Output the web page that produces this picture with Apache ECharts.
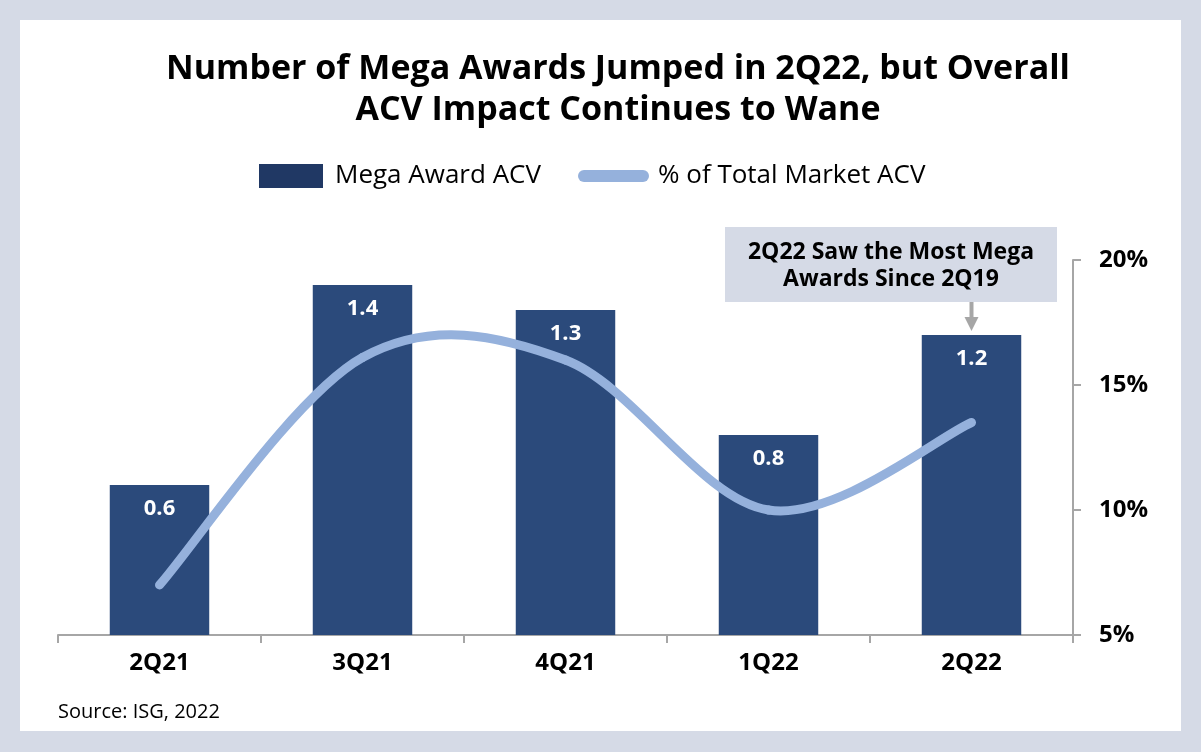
<!DOCTYPE html>
<html>
<head>
<meta charset="utf-8">
<script src="https://cdn.jsdelivr.net/npm/echarts@6/dist/echarts.min.js"></script>
<style>
  html, body { margin: 0; padding: 0; }
  body { width: 1201px; height: 752px; background: #d5dae6; position: relative; overflow: hidden; }
  #panel { position: absolute; left: 20px; top: 20px; width: 1161px; height: 711px; background: #ffffff; }
  #chart { position: absolute; left: 0; top: 0; width: 1201px; height: 752px; }
</style>
</head>
<body>
<div id="panel"></div>
<div id="chart"></div>
<script>
const categories = ['2Q21', '3Q21', '4Q21', '1Q22', '2Q22'];
const megaAwardACV = [0.6, 1.4, 1.3, 0.8, 1.2];
const pctTotalMarketACV = [7.0, 16.1, 16.0, 10.0, 13.5];
const rightAxisTicks = [5, 10, 15, 20];
const titleLines = ['Number of Mega Awards Jumped in 2Q22, but Overall', 'ACV Impact Continues to Wane'];
const annotationLines = ['2Q22 Saw the Most Mega', 'Awards Since 2Q19'];
const sourceText = 'Source: ISG, 2022';

const FONT = '"Open Sans", "Noto Sans", sans-serif';
const BAR = '#2b4a7b';
const LINE = '#95b1dc';
const AXIS = '#a6a6a6';

const chart = echarts.init(document.getElementById('chart'), null, { renderer: 'canvas' });

// Smoothed line (Catmull-Rom style, like spreadsheet smoothing) drawn through the axis scales
function renderSmoothLine(params, api) {
  if (params.dataIndex !== 0) return;
  const pts = pctTotalMarketACV.map((v, i) => api.coord([i, v]));
  const n = pts.length;
  const k = 1 / 6;
  const children = [];
  for (let i = 0; i < n - 1; i++) {
    const p0 = pts[Math.max(i - 1, 0)];
    const p1 = pts[i];
    const p2 = pts[i + 1];
    const p3 = pts[Math.min(i + 2, n - 1)];
    children.push({
      type: 'bezierCurve',
      shape: {
        x1: p1[0], y1: p1[1],
        cpx1: p1[0] + (p2[0] - p0[0]) * k, cpy1: p1[1] + (p2[1] - p0[1]) * k,
        cpx2: p2[0] - (p3[0] - p1[0]) * k, cpy2: p2[1] - (p3[1] - p1[1]) * k,
        x2: p2[0], y2: p2[1]
      },
      style: { stroke: LINE, lineWidth: 9, lineCap: 'round', fill: null }
    });
  }
  return { type: 'group', children: children };
}

const option = {
  animation: false,
  textStyle: { fontFamily: FONT },
  title: {
    text: titleLines.join('\n'),
    left: 613,
    top: 44,
    textAlign: 'center',
    textStyle: { fontFamily: FONT, fontSize: 34, fontWeight: 'bold', color: '#000', lineHeight: 41 }
  },
  legend: [
    {
      left: 254, top: 158,
      itemWidth: 64, itemHeight: 24,
      data: [{ name: 'Mega Award ACV', icon: 'rect', itemStyle: { color: '#203864' } }],
      textStyle: { fontFamily: FONT, fontSize: 26, color: '#000', padding: [0, 0, 0, 7] }
    },
    {
      left: 573, top: 158,
      itemWidth: 71, itemHeight: 12,
      data: [{ name: '% of Total Market ACV', icon: 'path://M6,0H65A6,6,0,0,1,65,12H6A6,6,0,0,1,6,0Z', itemStyle: { color: LINE } }],
      textStyle: { fontFamily: FONT, fontSize: 26, color: '#000', padding: [0, 0, 0, 4] }
    }
  ],
  grid: { left: 58, right: 128, top: 260, bottom: 117, containLabel: false },
  xAxis: {
    type: 'category',
    data: categories,
    boundaryGap: true,
    axisLine: { lineStyle: { color: AXIS, width: 2 } },
    axisTick: { show: true, length: 8, lineStyle: { color: AXIS, width: 2 } },
    axisLabel: { fontFamily: FONT, fontSize: 24, fontWeight: 'bold', color: '#000', margin: 16 }
  },
  yAxis: [
    {
      type: 'value', min: 0, max: 1.5, show: false,
      splitLine: { show: false }
    },
    {
      type: 'value', min: rightAxisTicks[0], max: rightAxisTicks[rightAxisTicks.length - 1], interval: 5,
      position: 'right',
      axisLine: { show: true, lineStyle: { color: AXIS, width: 2 } },
      axisTick: { show: true, length: 8, lineStyle: { color: AXIS, width: 2 } },
      splitLine: { show: false },
      axisLabel: { formatter: '{value}%', fontFamily: FONT, fontSize: 24, fontWeight: 'bold', color: '#000', margin: 26 }
    }
  ],
  series: [
    {
      name: 'Mega Award ACV',
      type: 'bar',
      yAxisIndex: 0,
      data: megaAwardACV,
      barWidth: '49%',
      itemStyle: { color: BAR },
      label: {
        show: true, position: 'insideTop', distance: 13,
        formatter: p => p.value.toFixed(1),
        fontFamily: FONT, fontSize: 22, fontWeight: 'bold', color: '#fff'
      },
      z: 2
    },
    {
      name: '% of Total Market ACV',
      type: 'custom',
      yAxisIndex: 1,
      data: pctTotalMarketACV,
      renderItem: renderSmoothLine,
      itemStyle: { color: LINE },
      clip: false,
      z: 3
    }
  ]
};

chart.setOption(option);

// Annotation anchored on the last bar via the chart's own scales
const lastIdx = categories.length - 1;
const barTop = chart.convertToPixel({ xAxisIndex: 0, yAxisIndex: 0 }, [lastIdx, megaAwardACV[lastIdx]]);
const ax = barTop[0];
const ay = barTop[1];
chart.setOption({
  graphic: [
    {
      type: 'rect', left: 725, top: ay - 108,
      shape: { width: 332, height: 75 },
      style: { fill: '#d5dae6' }
    },
    {
      type: 'text', x: 891, y: ay - 69,
      style: {
        text: annotationLines.join('\n'),
        fontFamily: FONT, fontSize: 23, fontWeight: 'bold', fill: '#000',
        textAlign: 'center', textVerticalAlign: 'middle', lineHeight: 27
      }
    },
    {
      type: 'line',
      shape: { x1: ax, y1: ay - 33, x2: ax, y2: ay - 16 },
      style: { stroke: AXIS, lineWidth: 4 }
    },
    {
      type: 'polygon',
      shape: { points: [[ax - 7, ay - 18], [ax + 7, ay - 18], [ax, ay - 4]] },
      style: { fill: AXIS }
    },
    {
      type: 'text', x: 58, y: 712,
      style: {
        text: sourceText, fontFamily: FONT, fontSize: 20, fill: '#000',
        textAlign: 'left', textVerticalAlign: 'middle'
      }
    }
  ]
});
</script>
</body>
</html>
